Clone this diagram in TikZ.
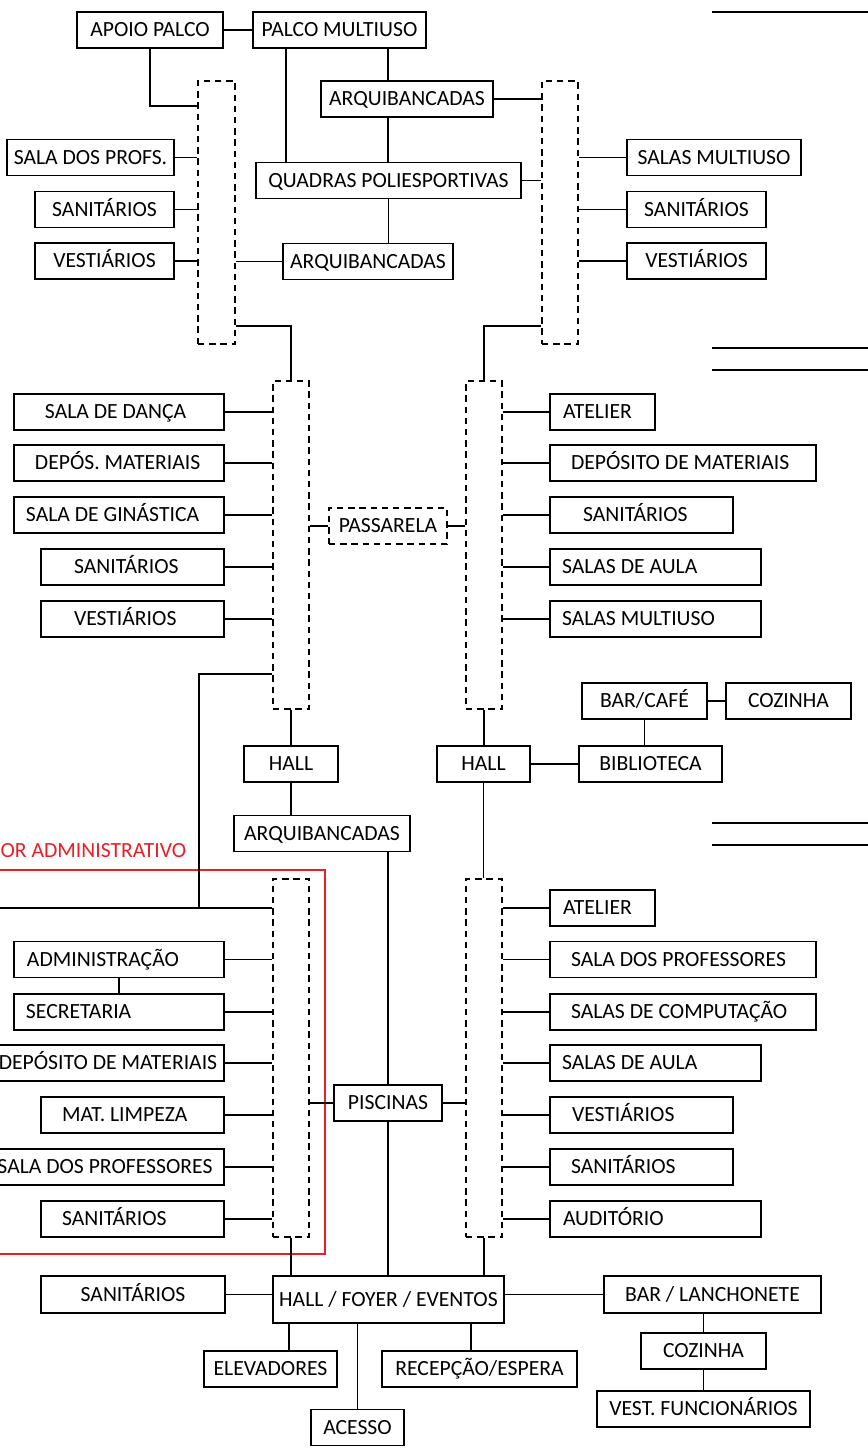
\documentclass[tikz,border=0pt]{standalone}
\usepackage{fontspec}
\setmainfont{Carlito}
\usepackage{tikz}

\definecolor{setorred}{RGB}{235,30,38}

\tikzset{
  room/.style={draw=black, rectangle, minimum height=9mm, inner xsep=0pt, inner ysep=0pt,
               text height=9.9pt, text depth=0pt},
  lroom/.style={room, align=flush left, inner xsep=#1},
  corr/.style={draw=black, dash pattern=on 1.6mm off 1.2mm, minimum width=9mm, inner sep=0pt},
}

\begin{document}
\begin{tikzpicture}[x=0.25mm, y=-0.25mm, line width=0.9pt,
                    font=\fontsize{15.4}{18}\selectfont]
            \useasboundingbox (0,0) rectangle (868,1452);

            % setor administrativo
            \draw[setorred] (-10,870) rectangle (325,1254);
            \node[text=setorred, anchor=west, inner sep=0pt] (SETOR) at (0,851) {OR ADMINISTRATIVO};

            % bloco superior
            \node[room, minimum width=36.5mm] (APOIO) at (150,30) {APOIO PALCO};
            \node[room, minimum width=43.25mm] (PALCO) at (339.5,30) {PALCO MULTIUSO};
            \node[room, minimum width=43mm] (ARQ1) at (407,99) {ARQUIBANCADAS};
            \node[room, minimum width=66.25mm] (QUADRAS) at (388.5,180.5) {QUADRAS POLIESPORTIVAS};
            \node[room, minimum width=42.5mm] (ARQ2) at (368,261.5) {ARQUIBANCADAS};
            \node[room, minimum width=41.75mm] (PROFS1) at (90.5,157.5) {SALA DOS PROFS.};
            \node[room, minimum width=34.75mm] (SAN1) at (104.5,209.5) {SANITÁRIOS};
            \node[room, minimum width=34.75mm] (VEST1) at (104.5,261) {VESTIÁRIOS};
            \node[room, minimum width=43.5mm] (MULT1) at (714,157.5) {SALAS MULTIUSO};
            \node[room, minimum width=34.75mm] (SAN2) at (696.5,209.5) {SANITÁRIOS};
            \node[room, minimum width=34.75mm] (VEST2) at (696.5,261) {VESTIÁRIOS};
            \node[corr, minimum width=9.25mm, minimum height=65.75mm] (C1) at (216.5,212.5) {};
            \node[corr, minimum height=65.75mm] (C2) at (560,212.5) {};

            % bloco central
            \node[corr, minimum height=82mm] (C3) at (291,545) {};
            \node[corr, minimum height=82mm] (C4) at (484,545) {};
            \node[lroom=7.75mm, text width=37mm] (DANCA) at (119,412) {SALA DE DANÇA};
            \node[lroom=5.25mm, text width=42mm] (DEPOS) at (119,463) {DEPÓS. MATERIAIS};
            \node[lroom=3mm, text width=46.5mm] (GINAST) at (119,515) {SALA DE GINÁSTICA};
            \node[lroom=8.25mm, text width=29.25mm] (SAN3) at (132.5,567) {SANITÁRIOS};
            \node[lroom=8.25mm, text width=29.25mm] (VEST3) at (132.5,619) {VESTIÁRIOS};
            \node[room, dash pattern=on 1.6mm off 1.2mm, minimum width=29.5mm] (PASS) at (388,526) {PASSARELA};
            \node[lroom=3.25mm, text width=19.75mm] (ATEL1) at (602.5,412) {ATELIER};
            \node[lroom=5.25mm, text width=56mm] (DEPMAT1) at (683,463) {DEPÓSITO DE MATERIAIS};
            \node[lroom=8.25mm, text width=29.25mm] (SAN4) at (641.5,515) {SANITÁRIOS};
            \node[lroom=3mm, text width=46.75mm] (AULA1) at (655.5,567) {SALAS DE AULA};
            \node[lroom=3mm, text width=46.75mm] (MULT2) at (655.5,619) {SALAS MULTIUSO};
            \node[room, minimum width=31.25mm] (BARCAFE) at (644.5,701) {BAR/CAFÉ};
            \node[room, minimum width=31.25mm] (COZ1) at (788.5,701) {COZINHA};
            \node[room, minimum width=23.5mm] (HALL1) at (291,764) {HALL};
            \node[room, minimum width=23.25mm] (HALL2) at (483.5,764) {HALL};
            \node[room, minimum width=35.75mm] (BIBLIO) at (650.5,764) {BIBLIOTECA};
            \node[room, minimum width=44mm] (ARQ3) at (322,833.5) {ARQUIBANCADAS};
            \coordinate (WEST) at (-20,908);

            % bloco inferior
            \node[corr, minimum height=89.5mm] (C5) at (291,1058) {};
            \node[corr, minimum height=89.5mm] (C6) at (484,1058) {};
            \node[lroom=3.25mm, text width=46mm] (ADMIN) at (119,959.5) {ADMINISTRAÇÃO};
            \node[lroom=3mm, text width=46.5mm] (SECRET) at (119,1012) {SECRETARIA};
            \node[room, minimum width=58mm] (DEPMAT2) at (108,1063) {DEPÓSITO DE MATERIAIS};
            \node[lroom=5.25mm, text width=35.25mm] (LIMPEZA) at (132.5,1115) {MAT. LIMPEZA};
            \node[room, minimum width=59.5mm] (PROFS2) at (105,1167) {SALA DOS PROFESSORES};
            \node[lroom=5.25mm, text width=35.25mm] (SAN5) at (132.5,1219) {SANITÁRIOS};
            \node[room, minimum width=27mm] (PISC) at (388,1103) {PISCINAS};
            \node[lroom=3.25mm, text width=19.75mm] (ATEL2) at (602.5,908) {ATELIER};
            \node[lroom=5.25mm, text width=56mm] (PROFS3) at (683,959.5) {SALA DOS PROFESSORES};
            \node[lroom=5.25mm, text width=56mm] (COMP) at (683,1012) {SALAS DE COMPUTAÇÃO};
            \node[lroom=3mm, text width=46.75mm] (AULA2) at (655.5,1063) {SALAS DE AULA};
            \node[lroom=5.5mm, text width=34.75mm] (VEST4) at (641.5,1115) {VESTIÁRIOS};
            \node[lroom=5.25mm, text width=35.25mm] (SAN6) at (641.5,1167) {SANITÁRIOS};
            \node[lroom=3.25mm, text width=46.25mm] (AUDIT) at (655.5,1219) {AUDITÓRIO};

            % acesso
            \node[room, minimum width=57.75mm, minimum height=11.75mm] (FOYER) at (388.5,1299.5) {HALL / FOYER / EVENTOS};
            \node[room, minimum width=46mm, minimum height=9.25mm] (SAN7) at (133,1294.5) {SANITÁRIOS};
            \node[room, minimum width=54.25mm, minimum height=9.25mm] (LANCH) at (712.5,1294.5) {BAR / LANCHONETE};
            \node[room, minimum width=31.25mm] (COZ2) at (703.5,1351) {COZINHA};
            \node[room, minimum width=53.25mm] (VESTF) at (703.5,1409) {VEST. FUNCIONÁRIOS};
            \node[room, minimum width=33.25mm] (ELEV) at (270.5,1369) {ELEVADORES};
            \node[room, minimum width=48.75mm] (RECEP) at (479.5,1369) {RECEPÇÃO/ESPERA};
            \node[room, minimum width=23.25mm] (ACESSO) at (357.5,1427.5) {ACESSO};

            \begin{scope}[every edge/.style={draw=black}]
                 \path (APOIO) edge (PALCO);
                 \draw (APOIO.south) |- (C1.west |- 0,106);
                 \draw (286,0 |- PALCO.south) -- (286,0 |- QUADRAS.north);
                 \draw (388,0 |- PALCO.south) -- (388,0 |- ARQ1.north);
                 \draw (388,0 |- ARQ1.south) -- (388,0 |- QUADRAS.north);
                 \path (QUADRAS.south) edge (QUADRAS.south |- ARQ2.north);
                 \path (ARQ1) edge (ARQ1 -| C2.west);
                 \path (QUADRAS) edge (QUADRAS -| C2.west);
                 \path (ARQ2) edge (ARQ2 -| C1.east);
                 \path (PROFS1) edge (PROFS1 -| C1.west);
                 \path (SAN1) edge (SAN1 -| C1.west);
                 \path (VEST1) edge (VEST1 -| C1.west);
                 \path (MULT1) edge (MULT1 -| C2.east);
                 \path (SAN2) edge (SAN2 -| C2.east);
                 \path (VEST2) edge (VEST2 -| C2.east);
                 \draw (C1.east |- 0,326) -| (C3.north);
                 \draw (C2.west |- 0,326) -| (C4.north);

                 \path (DANCA) edge (DANCA -| C3.west);
                 \path (DEPOS) edge (DEPOS -| C3.west);
                 \path (GINAST) edge (GINAST -| C3.west);
                 \path (SAN3) edge (SAN3 -| C3.west);
                 \path (VEST3) edge (VEST3 -| C3.west);
                 \path (ATEL1) edge (ATEL1 -| C4.east);
                 \path (DEPMAT1) edge (DEPMAT1 -| C4.east);
                 \path (SAN4) edge (SAN4 -| C4.east);
                 \path (AULA1) edge (AULA1 -| C4.east);
                 \path (MULT2) edge (MULT2 -| C4.east);
                 \path (PASS) edge (PASS -| C3.east);
                 \path (PASS) edge (PASS -| C4.west);
                 \path (C3.south) edge (C3.south |- HALL1.north);
                 \path (HALL1.south) edge (HALL1.south |- ARQ3.north);
                 \path (C4.south) edge (C4.south |- HALL2.north);
                 \path (HALL2) edge (BIBLIO);
                 \path (BARCAFE) edge (COZ1);
                 \path (BARCAFE.south) edge (BARCAFE.south |- BIBLIO.north);
                 \draw (C3.west |- 0,674) -| (WEST -| 199,0);
                 \draw (WEST) -- (WEST -| C5.west);
                 \draw (388,0 |- ARQ3.south) -- (PISC.north);
                 \path (HALL2.south) edge (HALL2.south |- C6.north);

                 \path (ADMIN) edge (ADMIN -| C5.west);
                 \path (SECRET) edge (SECRET -| C5.west);
                 \path (DEPMAT2) edge (DEPMAT2 -| C5.west);
                 \path (LIMPEZA) edge (LIMPEZA -| C5.west);
                 \path (PROFS2) edge (PROFS2 -| C5.west);
                 \path (SAN5) edge (SAN5 -| C5.west);
                 \path (ADMIN.south) edge (ADMIN.south |- SECRET.north);
                 \path (PISC) edge (PISC -| C5.east);
                 \path (PISC) edge (PISC -| C6.west);
                 \path (ATEL2) edge (ATEL2 -| C6.east);
                 \path (PROFS3) edge (PROFS3 -| C6.east);
                 \path (COMP) edge (COMP -| C6.east);
                 \path (AULA2) edge (AULA2 -| C6.east);
                 \path (VEST4) edge (VEST4 -| C6.east);
                 \path (SAN6) edge (SAN6 -| C6.east);
                 \path (AUDIT) edge (AUDIT -| C6.east);

                 \path (C5.south) edge (C5.south |- FOYER.north);
                 \path (PISC.south) edge (PISC.south |- FOYER.north);
                 \path (C6.south) edge (C6.south |- FOYER.north);
                 \path (SAN7) edge (SAN7 -| FOYER.west);
                 \path (LANCH) edge (LANCH -| FOYER.east);
                 \path (COZ2.north) edge (COZ2.north |- LANCH.south);
                 \path (COZ2) edge (VESTF);
                 \draw (289,0 |- ELEV.north) -- (289,0 |- FOYER.south);
                 \draw (471,0 |- RECEP.north) -- (471,0 |- FOYER.south);
                 \path (ACESSO.north) edge (ACESSO.north |- FOYER.south);
            \end{scope}

            % linhas soltas
            \foreach \y in {12,348,370,823,845}
                \draw (712,\y) -- (880,\y);
\end{tikzpicture}
\end{document}
